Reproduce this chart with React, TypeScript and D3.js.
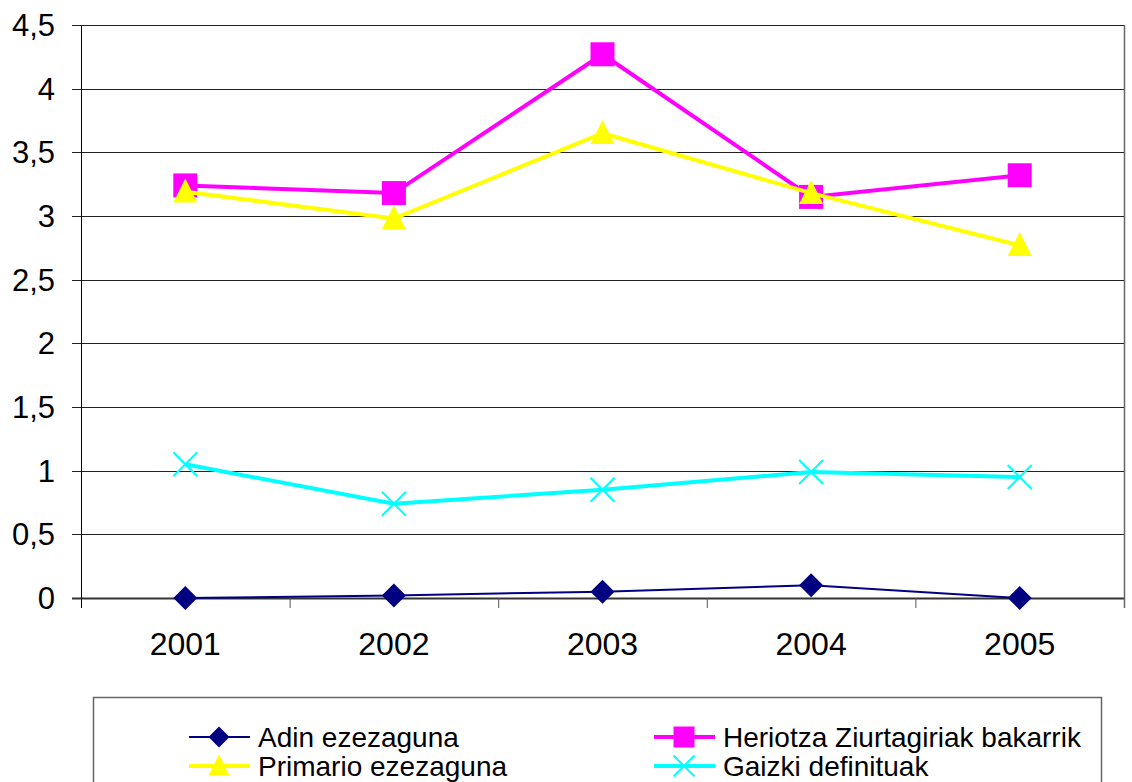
import React from "react";
import * as d3 from "d3";

const years = ["2001", "2002", "2003", "2004", "2005"];
const adin = [0, 0.02, 0.05, 0.1, 0];
const heriotza = [3.24, 3.18, 4.27, 3.15, 3.32];
const primario = [3.19, 2.98, 3.65, 3.18, 2.77];
const gaizki = [1.05, 0.74, 0.85, 0.99, 0.95];
const yTicks = [0, 0.5, 1, 1.5, 2, 2.5, 3, 3.5, 4, 4.5];

const W = 1132;
const H = 782;
const left = 81;
const right = 1124;
const top = 25;
const bottom = 598;
const font = "'Liberation Sans', Arial, sans-serif";

const fmt = (v: number) => String(v).replace(".", ",");

const series = [
  { name: "Adin ezezaguna", values: adin, color: "#000080", width: 2, marker: "diamond" },
  { name: "Heriotza Ziurtagiriak bakarrik", values: heriotza, color: "#FF00FF", width: 4, marker: "square" },
  { name: "Primario ezezaguna", values: primario, color: "#FFFF00", width: 4, marker: "triangle" },
  { name: "Gaizki definituak", values: gaizki, color: "#00FFFF", width: 4, marker: "x" },
];

function Marker({ type, x, y, color, s }: { type: string; x: number; y: number; color: string; s: number }) {
  const h = s / 2;
  if (type === "square") {
    return <rect x={x - h} y={y - h} width={s} height={s} fill={color} />;
  }
  if (type === "diamond") {
    return <path d={`M${x},${y - h}L${x + h},${y}L${x},${y + h}L${x - h},${y}Z`} fill={color} />;
  }
  if (type === "triangle") {
    return <path d={`M${x},${y - h * 1.1}L${x + h},${y + h * 0.9}L${x - h},${y + h * 0.9}Z`} fill={color} />;
  }
  return (
    <path
      d={`M${x - h},${y - h}L${x + h},${y + h}M${x - h},${y + h}L${x + h},${y - h}`}
      stroke={color}
      strokeWidth={2}
      fill="none"
    />
  );
}

export default function App() {
  const x = d3.scaleBand<string>().domain(years).range([left, right]);
  const y = d3.scaleLinear().domain([0, 4.5]).range([bottom, top]);
  const cx = (d: string) => (x(d) as number) + x.bandwidth() / 2;

  const line = d3
    .line<number>()
    .x((d, i) => cx(years[i]))
    .y((d) => y(d));

  const boundaries = years.map((d) => x(d) as number).concat([right]);

  const legendPos = [
    { lx: 189, ly: 737 },
    { lx: 654, ly: 737 },
    { lx: 189, ly: 766 },
    { lx: 654, ly: 766 },
  ];

  return (
    <svg
      width={W}
      height={H}
      style={{ position: "absolute", left: 0, top: 0, background: "#fff" }}
      fontFamily={font}
    >
      {/* grid */}
      {yTicks.map((t) => (
        <g key={t}>
          <line
            x1={left - 9}
            x2={right}
            y1={Math.round(y(t)) + 0.5}
            y2={Math.round(y(t)) + 0.5}
            stroke={t === 0 ? "#333" : "#222"}
            strokeWidth={t === 0 ? 2 : 1}
          />
          <text x={55} y={y(t) + 11} textAnchor="end" fontSize={31} fill="#000">
            {fmt(t)}
          </text>
        </g>
      ))}
      <line x1={right + 0.5} x2={right + 0.5} y1={top} y2={bottom + 10} stroke="#666" strokeWidth={1.5} />
      <line x1={left + 0.5} x2={left + 0.5} y1={top} y2={bottom + 10} stroke="#000" strokeWidth={1} />
      {boundaries.slice(1, -1).map((b, i) => (
        <line key={i} x1={b + 0.5} x2={b + 0.5} y1={bottom} y2={bottom + 10} stroke="#555" strokeWidth={1} />
      ))}
      {years.map((d) => (
        <text key={d} x={cx(d)} y={655} textAnchor="middle" fontSize={32} fill="#000">
          {d}
        </text>
      ))}

      {/* series */}
      {series.map((s) => (
        <g key={s.name}>
          <path d={line(s.values) as string} fill="none" stroke={s.color} strokeWidth={s.width} />
          {s.values.map((v, i) => (
            <Marker key={i} type={s.marker} x={cx(years[i])} y={y(v)} color={s.color} s={24} />
          ))}
        </g>
      ))}

      {/* legend */}
      <rect x={93.5} y={697.5} width={1008} height={100} fill="none" stroke="#666" strokeWidth={1.5} />
      {series.map((s, i) => {
        const p = legendPos[i];
        return (
          <g key={s.name}>
            <line x1={p.lx} x2={p.lx + 61} y1={p.ly} y2={p.ly} stroke={s.color} strokeWidth={s.width} />
            <Marker type={s.marker} x={p.lx + 30} y={p.ly} color={s.color} s={21} />
            <text x={p.lx + 69} y={p.ly + 10} fontSize={28} fill="#000">
              {s.name}
            </text>
          </g>
        );
      })}
    </svg>
  );
}
